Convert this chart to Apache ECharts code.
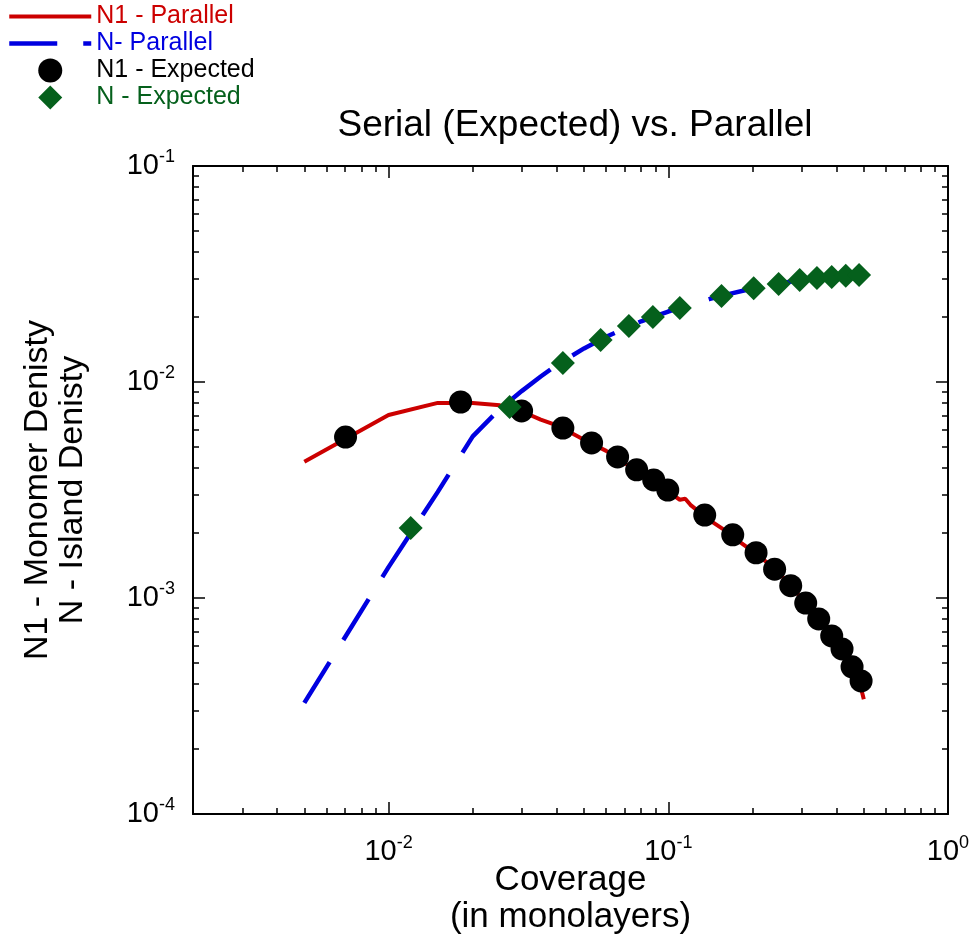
<!DOCTYPE html>
<html><head><meta charset="utf-8">
<script src="https://cdn.jsdelivr.net/npm/echarts@6/dist/echarts.min.js"></script>
<style>html,body{margin:0;padding:0;background:#fff}#c{width:974px;height:942px}</style>
</head><body><div id="c"></div>
<script>
const titleText = 'Serial (Expected) vs. Parallel';
const xAxisName = 'Coverage\n(in monolayers)';
const yAxisName = 'N1 - Monomer Denisty\nN - Island Denisty';
const seriesNames = ['N1 - Parallel', 'N- Parallel', 'N1 - Expected', 'N - Expected'];

const xMajorTicks = [0.01, 0.1, 1];
const xMinorTicks = [0.002,0.003,0.004,0.005,0.006,0.007,0.008,0.009,
                     0.02,0.03,0.04,0.05,0.06,0.07,0.08,0.09,
                     0.2,0.3,0.4,0.5,0.6,0.7,0.8,0.9];
const yMajorTicks = [0.0001, 0.001, 0.01, 0.1];
const yMinorTicks = [0.0002,0.0003,0.0004,0.0005,0.0006,0.0007,0.0008,0.0009,
                     0.002,0.003,0.004,0.005,0.006,0.007,0.008,0.009,
                     0.02,0.03,0.04,0.05,0.06,0.07,0.08,0.09];

// N1 - Parallel (red solid line)
const n1ParX = [0.005,0.01,0.015,0.02,0.025,0.03,0.035,0.04,0.05,0.06,0.07,0.08,0.09,0.10,0.11,0.115,0.12,0.14,0.16,0.18,0.20,0.22,0.24,0.26,0.28,0.30,0.32,0.34,0.36,0.38,0.40,0.42,0.44,0.46,0.48,0.50];
const n1ParY = [0.00427,0.00703,0.0080,0.0080,0.0078,0.0073,0.0067,0.0063,0.0054,0.0048,0.0042,0.0038,0.0034,0.0031,0.00285,0.00288,0.0027,0.0023,0.00205,0.00182,0.00165,0.00150,0.00136,0.00123,0.00111,0.00099,0.00090,0.00081,0.00074,0.00067,0.00062,0.00057,0.00051,0.00046,0.00042,0.00034];

// N - Parallel (blue dashed line)
const nParX = [0.005,0.01,0.015,0.02,0.025,0.03,0.035,0.04,0.05,0.06,0.07,0.08,0.09,0.10,0.12,0.14,0.16,0.20,0.25,0.30,0.35,0.40,0.45,0.50];
const nParY = [0.000327,0.00139,0.0031,0.0056,0.0075,0.0091,0.0106,0.0120,0.0143,0.0162,0.0177,0.0191,0.0202,0.0212,0.0229,0.0242,0.0253,0.0271,0.0286,0.0297,0.0304,0.0309,0.0312,0.0315];

// N1 - Expected (black circles)
const n1ExpX = [0.00702,0.0181,0.0299,0.0420,0.0532,0.0659,0.0771,0.0887,0.0996,0.135,0.170,0.206,0.240,0.274,0.310,0.345,0.384,0.418,0.454,0.489];
const n1ExpY = [0.00556,0.00808,0.00735,0.00612,0.00522,0.00450,0.00392,0.00352,0.00316,0.00242,0.00196,0.00162,0.00136,0.00114,0.000948,0.000800,0.000667,0.000581,0.000480,0.000413];

// N - Expected (green diamonds)
const nExpX = [0.0120,0.0271,0.0420,0.0573,0.0723,0.0881,0.110,0.155,0.202,0.248,0.295,0.340,0.384,0.431,0.481];
const nExpY = [0.00211,0.00766,0.01225,0.01565,0.01815,0.0200,0.0220,0.0250,0.0272,0.0284,0.0297,0.0303,0.0306,0.0310,0.0313];

const FONT = 'Liberation Sans, Arial, sans-serif';
const RED = '#cc0000', BLUE = '#0000e0', GREEN = '#05601c', BLACK = '#000000';

const zip = (xs, ys) => xs.map((x, i) => [x, ys[i]]);
const expFmt = v => '{b|10}{s|' + Math.round(Math.log10(v)) + '}';
const richLabel = {
  b: { fontSize: 29, lineHeight: 36, fontFamily: FONT, color: '#000' },
  s: { fontSize: 18, lineHeight: 17, fontFamily: FONT, color: '#000', verticalAlign: 'top' }
};

function axisCommon(min, max) {
  return { type: 'log', logBase: 10, min: min, max: max, splitLine: { show: false }, minorTick: { show: false } };
}
function makeX(position, major, withLabel, withLine) {
  const a = axisCommon(0.002, 1);
  a.position = position;
  a.axisLine = { show: withLine, onZero: false, lineStyle: { color: '#000', width: 2 } };
  a.axisTick = { show: true, inside: true, length: major ? 12 : 6, customValues: major ? xMajorTicks : xMinorTicks, lineStyle: { color: '#000', width: 1.5 } };
  a.axisLabel = withLabel ? { show: true, customValues: xMajorTicks, formatter: expFmt, rich: richLabel, margin: 20, hideOverlap: false } : { show: false };
  return a;
}
function makeY(position, major, withLabel, withLine) {
  const a = axisCommon(0.0001, 0.1);
  a.position = position;
  a.axisLine = { show: withLine, onZero: false, lineStyle: { color: '#000', width: 2 } };
  a.axisTick = { show: true, inside: true, length: major ? 12 : 6, customValues: major ? yMajorTicks : yMinorTicks, lineStyle: { color: '#000', width: 1.5 } };
  a.axisLabel = withLabel ? { show: true, customValues: yMajorTicks, formatter: expFmt, rich: richLabel, margin: 18, hideOverlap: false } : { show: false };
  return a;
}

const xAxes = [makeX('bottom', true, true, true), makeX('bottom', false, false, false), makeX('top', true, false, true), makeX('top', false, false, false)];
xAxes[0].name = xAxisName;
xAxes[0].nameLocation = 'middle';
xAxes[0].nameGap = 48;
xAxes[0].nameMoveOverlap = false;
xAxes[0].nameTextStyle = { fontSize: 35, lineHeight: 37, fontFamily: FONT, color: '#000', verticalAlign: 'top' };

const yAxes = [makeY('left', true, true, true), makeY('left', false, false, false), makeY('right', true, false, true), makeY('right', false, false, false)];
yAxes[0].name = yAxisName;
yAxes[0].nameLocation = 'middle';
yAxes[0].nameGap = 103;
yAxes[0].nameRotate = 90;
yAxes[0].nameMoveOverlap = false;
yAxes[0].nameTextStyle = { fontSize: 34, lineHeight: 35, fontFamily: FONT, color: '#000' };

const diamondIcon = 'path://M10,0L20,10L10,20L0,10Z';

const chart = echarts.init(document.getElementById('c'), null, { renderer: 'canvas' });
chart.setOption({
  animation: false,
  backgroundColor: '#fff',
  title: {
    text: titleText, left: 570, top: 102, textAlign: 'center',
    textStyle: { fontSize: 37, fontWeight: 'normal', fontFamily: FONT, color: '#000' }
  },
  legend: {
    orient: 'vertical', left: 7, top: 3, padding: 0, itemGap: 0,
    itemWidth: 82, itemHeight: 24, selectedMode: false,
    textStyle: { fontSize: 25, lineHeight: 27, fontFamily: FONT },
    data: [
      { name: seriesNames[0], textStyle: { color: RED }, itemStyle: { opacity: 0 }, lineStyle: { width: 4 } },
      { name: seriesNames[1], textStyle: { color: BLUE }, itemStyle: { opacity: 0 }, lineStyle: { width: 4.5 } },
      { name: seriesNames[2], textStyle: { color: BLACK } },
      { name: seriesNames[3], textStyle: { color: GREEN }, icon: diamondIcon }
    ]
  },
  grid: { left: 193, right: 26, top: 166, bottom: 128, outerBoundsMode: 'none', containLabel: false },
  xAxis: xAxes,
  yAxis: yAxes,
  series: [
    { name: seriesNames[0], type: 'line', data: zip(n1ParX, n1ParY), showSymbol: false, symbol: 'none',
      lineStyle: { color: RED, width: 4 }, itemStyle: { color: RED }, z: 2 },
    { name: seriesNames[1], type: 'line', data: zip(nParX, nParY), showSymbol: false, symbol: 'none',
      lineStyle: { color: BLUE, width: 4.5, type: [48, 26], cap: 'butt' }, itemStyle: { color: BLUE }, z: 2 },
    { name: seriesNames[2], type: 'scatter', data: zip(n1ExpX, n1ExpY), symbol: 'circle', symbolSize: 23,
      itemStyle: { color: BLACK, opacity: 1 }, z: 3 },
    { name: seriesNames[3], type: 'scatter', data: zip(nExpX, nExpY), symbol: 'diamond', symbolSize: 24,
      itemStyle: { color: GREEN, opacity: 1 }, z: 4 }
  ]
});
</script>
</body></html>
